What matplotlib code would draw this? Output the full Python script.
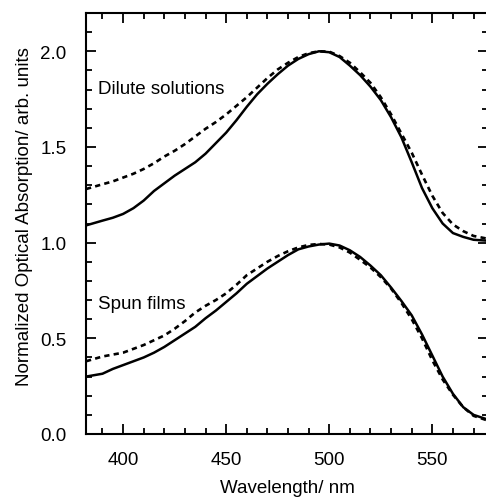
import numpy as np
import matplotlib
import matplotlib.pyplot as plt
from matplotlib.ticker import MultipleLocator

# absorption spectra, wavelength in nm
wl = [382, 390, 395, 400, 405, 410, 415, 420, 425, 430, 435, 440, 445, 450,
      455, 460, 465, 470, 475, 480, 485, 490, 495, 500, 505, 510, 515, 520,
      525, 530, 535, 540, 545, 550, 555, 560, 565, 570, 577]

sol_solid = [1.09, 1.115, 1.13, 1.15, 1.18, 1.22, 1.27, 1.31, 1.35, 1.385, 1.42,
             1.465, 1.52, 1.575, 1.64, 1.71, 1.775, 1.83, 1.88, 1.925, 1.96,
             1.985, 2.0, 1.995, 1.97, 1.925, 1.875, 1.815, 1.745, 1.655, 1.55,
             1.42, 1.285, 1.18, 1.10, 1.05, 1.03, 1.015, 1.01]
sol_dash = [1.28, 1.305, 1.32, 1.34, 1.36, 1.385, 1.415, 1.45, 1.48, 1.515,
            1.555, 1.595, 1.63, 1.67, 1.715, 1.76, 1.81, 1.86, 1.905, 1.94,
            1.97, 1.99, 2.0, 1.998, 1.975, 1.94, 1.89, 1.835, 1.76, 1.67, 1.57,
            1.47, 1.355, 1.245, 1.155, 1.095, 1.06, 1.035, 1.02]

film_solid = [0.30, 0.315, 0.34, 0.36, 0.38, 0.40, 0.425, 0.455, 0.49, 0.525,
              0.56, 0.605, 0.645, 0.69, 0.735, 0.785, 0.825, 0.865, 0.90,
              0.935, 0.965, 0.98, 0.99, 0.995, 0.985, 0.96, 0.925, 0.88, 0.83,
              0.765, 0.695, 0.62, 0.52, 0.41, 0.30, 0.21, 0.14, 0.10, 0.075]
film_dash = [0.38, 0.405, 0.415, 0.425, 0.445, 0.465, 0.49, 0.515, 0.55, 0.59,
             0.635, 0.67, 0.70, 0.735, 0.78, 0.83, 0.865, 0.90, 0.93, 0.955,
             0.975, 0.988, 0.993, 0.99, 0.975, 0.948, 0.91, 0.87, 0.82, 0.76,
             0.685, 0.60, 0.50, 0.385, 0.285, 0.205, 0.14, 0.095, 0.07]

matplotlib.rcParams["font.family"] = ["Liberation Sans", "DejaVu Sans"]
matplotlib.rcParams["font.size"] = 13.5

fig = plt.figure(figsize=(4.86, 5.02), dpi=100)
ax = fig.add_axes([86 / 486, 67 / 502, 402 / 486, 421 / 502])

ax.plot(wl, sol_solid, "-", color="black", lw=1.8)
ax.plot(wl, sol_dash, color="black", lw=1.9, linestyle=(0, (2.0, 1.6)))
ax.plot(wl, film_solid, "-", color="black", lw=1.8)
ax.plot(wl, film_dash, color="black", lw=1.9, linestyle=(0, (2.0, 1.6)))

ax.text(388, 1.807, "Dilute solutions", va="center")
ax.text(388, 0.684, "Spun films", va="center")

ax.set_xlim(382, 577)
ax.set_ylim(0, 2.2)
ax.xaxis.set_major_locator(MultipleLocator(50))
ax.xaxis.set_minor_locator(MultipleLocator(10))
ax.yaxis.set_major_locator(MultipleLocator(0.5))
ax.yaxis.set_minor_locator(MultipleLocator(0.1))
ax.yaxis.set_major_formatter(matplotlib.ticker.FormatStrFormatter("%.1f"))
ax.tick_params(which="both", direction="in", top=True, right=True, width=1.3)
ax.tick_params(which="major", length=7)
ax.tick_params(which="minor", length=4)
ax.tick_params(axis="x", which="major", pad=12)
ax.tick_params(axis="y", which="major", pad=14)
for s in ax.spines.values():
    s.set_linewidth(1.5)

ax.set_xlabel("Wavelength/ nm", va="center")
ax.set_ylabel("Normalized Optical Absorption/ arb. units", va="center")
ax.xaxis.set_label_coords(0.5, -0.128)
ax.yaxis.set_label_coords(-0.154, 0.518)

plt.savefig("out.png")
